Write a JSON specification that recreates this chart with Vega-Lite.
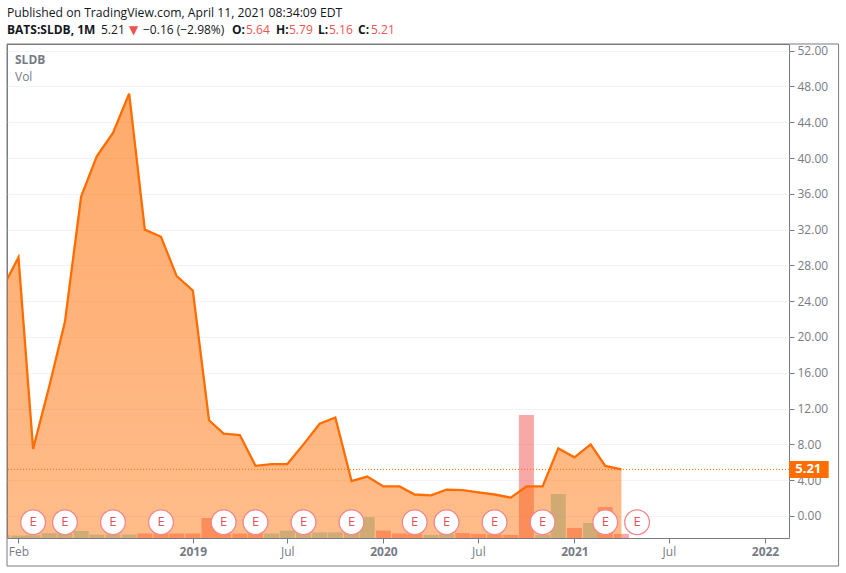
{
  "$schema": "https://vega.github.io/schema/vega-lite/v6.json",
  "width": 782,
  "height": 494,
  "autosize": "none",
  "padding": {"left": 7, "top": 44, "right": 57, "bottom": 35},
  "background": "white",
  "config": {
    "view": {"stroke": "#787b86", "strokeWidth": 1},
    "font": "Open Sans",
    "text": {"font": "Open Sans"}
  },
  "datasets": {
    "prices": [
      {"month": "2018-01-01", "close": 25.4},
      {"month": "2018-02-01", "close": 28.9},
      {"month": "2018-03-01", "close": 7.5},
      {"month": "2018-04-01", "close": 14.5},
      {"month": "2018-05-01", "close": 21.7},
      {"month": "2018-06-01", "close": 35.7},
      {"month": "2018-07-01", "close": 40.2},
      {"month": "2018-08-01", "close": 42.8},
      {"month": "2018-09-01", "close": 47.2},
      {"month": "2018-10-01", "close": 32},
      {"month": "2018-11-01", "close": 31.2},
      {"month": "2018-12-01", "close": 26.8},
      {"month": "2019-01-01", "close": 25.2},
      {"month": "2019-02-01", "close": 10.7},
      {"month": "2019-03-01", "close": 9.2},
      {"month": "2019-04-01", "close": 9.05},
      {"month": "2019-05-01", "close": 5.6},
      {"month": "2019-06-01", "close": 5.8},
      {"month": "2019-07-01", "close": 5.8},
      {"month": "2019-08-01", "close": 8},
      {"month": "2019-09-01", "close": 10.3},
      {"month": "2019-10-01", "close": 11},
      {"month": "2019-11-01", "close": 3.9},
      {"month": "2019-12-01", "close": 4.4},
      {"month": "2020-01-01", "close": 3.3},
      {"month": "2020-02-01", "close": 3.3},
      {"month": "2020-03-01", "close": 2.4},
      {"month": "2020-04-01", "close": 2.3},
      {"month": "2020-05-01", "close": 2.95},
      {"month": "2020-06-01", "close": 2.9},
      {"month": "2020-07-01", "close": 2.65},
      {"month": "2020-08-01", "close": 2.4},
      {"month": "2020-09-01", "close": 2.05},
      {"month": "2020-10-01", "close": 3.3},
      {"month": "2020-11-01", "close": 3.3},
      {"month": "2020-12-01", "close": 7.55},
      {"month": "2021-01-01", "close": 6.55},
      {"month": "2021-02-01", "close": 8},
      {"month": "2021-03-01", "close": 5.6},
      {"month": "2021-04-01", "close": 5.21}
    ],
    "volume": [
      {"month": "2018-01-01", "vol": 0.7, "dir": "up"},
      {"month": "2018-02-01", "vol": 0.6, "dir": "up"},
      {"month": "2018-03-01", "vol": 0.7, "dir": "up"},
      {"month": "2018-04-01", "vol": 1.2, "dir": "up"},
      {"month": "2018-05-01", "vol": 1.1, "dir": "up"},
      {"month": "2018-06-01", "vol": 1.7, "dir": "up"},
      {"month": "2018-07-01", "vol": 0.85, "dir": "up"},
      {"month": "2018-08-01", "vol": 0.85, "dir": "up"},
      {"month": "2018-09-01", "vol": 0.85, "dir": "up"},
      {"month": "2018-10-01", "vol": 1.1, "dir": "down"},
      {"month": "2018-11-01", "vol": 1.1, "dir": "down"},
      {"month": "2018-12-01", "vol": 1.1, "dir": "down"},
      {"month": "2019-01-01", "vol": 1.1, "dir": "down"},
      {"month": "2019-02-01", "vol": 4.9, "dir": "down"},
      {"month": "2019-03-01", "vol": 1.1, "dir": "down"},
      {"month": "2019-04-01", "vol": 1.1, "dir": "down"},
      {"month": "2019-05-01", "vol": 1.1, "dir": "down"},
      {"month": "2019-06-01", "vol": 1.1, "dir": "up"},
      {"month": "2019-07-01", "vol": 1.8, "dir": "up"},
      {"month": "2019-08-01", "vol": 1.1, "dir": "up"},
      {"month": "2019-09-01", "vol": 1.35, "dir": "up"},
      {"month": "2019-10-01", "vol": 1.35, "dir": "up"},
      {"month": "2019-11-01", "vol": 1.2, "dir": "up"},
      {"month": "2019-12-01", "vol": 5.1, "dir": "up"},
      {"month": "2020-01-01", "vol": 1.8, "dir": "down"},
      {"month": "2020-02-01", "vol": 1.1, "dir": "down"},
      {"month": "2020-03-01", "vol": 1, "dir": "down"},
      {"month": "2020-04-01", "vol": 0.75, "dir": "up"},
      {"month": "2020-05-01", "vol": 1, "dir": "up"},
      {"month": "2020-06-01", "vol": 1.2, "dir": "down"},
      {"month": "2020-07-01", "vol": 1, "dir": "down"},
      {"month": "2020-08-01", "vol": 0.85, "dir": "down"},
      {"month": "2020-09-01", "vol": 0.75, "dir": "down"},
      {"month": "2020-10-01", "vol": 30, "dir": "down"},
      {"month": "2020-11-01", "vol": 0.75, "dir": "up"},
      {"month": "2020-12-01", "vol": 10.7, "dir": "up"},
      {"month": "2021-01-01", "vol": 2.45, "dir": "down"},
      {"month": "2021-02-01", "vol": 3.65, "dir": "up"},
      {"month": "2021-03-01", "vol": 7.55, "dir": "down"},
      {"month": "2021-04-01", "vol": 1, "dir": "down"}
    ],
    "earnings": [
      {"month": "2018-03-01", "level": -0.7, "label": "E"},
      {"month": "2018-05-01", "level": -0.7, "label": "E"},
      {"month": "2018-08-01", "level": -0.7, "label": "E"},
      {"month": "2018-11-01", "level": -0.7, "label": "E"},
      {"month": "2019-03-01", "level": -0.7, "label": "E"},
      {"month": "2019-05-01", "level": -0.7, "label": "E"},
      {"month": "2019-08-01", "level": -0.7, "label": "E"},
      {"month": "2019-11-01", "level": -0.7, "label": "E"},
      {"month": "2020-03-01", "level": -0.7, "label": "E"},
      {"month": "2020-05-01", "level": -0.7, "label": "E"},
      {"month": "2020-08-01", "level": -0.7, "label": "E"},
      {"month": "2020-11-01", "level": -0.7, "label": "E"},
      {"month": "2021-03-01", "level": -0.7, "label": "E"},
      {"month": "2021-05-01", "level": -0.7, "label": "E"}
    ]
  },
  "encoding": {
    "x": {
      "field": "month",
      "type": "temporal",
      "title": null,
      "scale": {"type": "utc", "domain": ["2018-01-10", "2022-02-16"], "padding": 0, "nice": false},
      "axis": {
        "values": ["2018-02-01", "2019-01-01", "2019-07-01", "2020-01-01", "2020-07-01", "2021-01-01", "2021-07-01", "2022-01-01"],
        "labelExpr": "utcmonth(datum.value) == 0 ? utcFormat(datum.value, '%Y') : utcFormat(datum.value, '%b')",
        "labelFontWeight": {"condition": {"test": "utcmonth(datum.value) == 0", "value": "bold"}, "value": "normal"},
        "grid": false,
        "domain": false,
        "tickColor": "#787b86",
        "tickSize": 5,
        "labelColor": "#787b86",
        "labelFontSize": 12,
        "labelPadding": 3,
        "labelFlush": false
      }
    }
  },
  "layer": [
    {
      "data": {"name": "volume"},
      "mark": {"type": "bar", "width": 15, "clip": true, "opacity": 0.5},
      "encoding": {
        "y": {"field": "vol", "type": "quantitative", "axis": null, "scale": {"domain": [0, 120.5]}},
        "color": {
          "field": "dir",
          "type": "nominal",
          "legend": null,
          "scale": {"domain": ["up", "down"], "range": ["#51c1af", "#ef5350"]}
        }
      }
    },
    {
      "layer": [
        {
          "data": {"name": "prices"},
          "mark": {
            "type": "area",
            "clip": true,
            "color": {
              "gradient": "linear",
              "x1": 1, "y1": 1, "x2": 1, "y2": 0,
              "stops": [
                {"offset": 0, "color": "rgba(255,109,0,0.46)"},
                {"offset": 1, "color": "rgba(255,109,0,0.58)"}
              ]
            }
          },
          "encoding": {
            "y": {
              "field": "close",
              "type": "quantitative",
              "title": null,
              "scale": {"domain": [-2.46, 52.74], "nice": false, "zero": false},
              "axis": {
                "orient": "right",
                "values": [0, 4, 8, 12, 16, 20, 24, 28, 32, 36, 40, 44, 48, 52],
                "tickCount": 20,
                "format": ".2f",
                "labelOverlap": false,
                "grid": true,
                "gridColor": "#f0f3fa",
                "domain": false,
                "tickColor": "#787b86",
                "tickSize": 5,
                "labelColor": "#787b86",
                "labelFontSize": 12,
                "labelPadding": 3
              }
            },
            "y2": {"datum": -2.46}
          }
        },
        {
          "data": {"values": [{"close": 5.21}]},
          "mark": {"type": "rule", "color": "#ff6d00", "strokeWidth": 1, "strokeDash": [1, 2]},
          "encoding": {"x": null, "y": {"field": "close", "type": "quantitative"}}
        },
        {
          "data": {"name": "prices"},
          "mark": {"type": "line", "clip": true, "color": "#ff6d00", "strokeWidth": 2.3},
          "encoding": {"y": {"field": "close", "type": "quantitative"}}
        },
        {
          "data": {"name": "earnings"},
          "mark": {"type": "point", "filled": false, "fill": "white", "fillOpacity": 1, "stroke": "#f5868c", "strokeWidth": 1.3, "size": 610, "opacity": 1},
          "encoding": {"y": {"field": "level", "type": "quantitative"}}
        },
        {
          "data": {"name": "earnings"},
          "mark": {"type": "text", "color": "#e2515e", "fontSize": 13},
          "encoding": {"y": {"field": "level", "type": "quantitative"}, "text": {"field": "label"}}
        },
        {
          "data": {"values": [{"month": "2018-01-10", "end": "2022-05-22", "top": 52.74, "bottom": -5.59}]},
          "mark": {"type": "rect", "fill": null, "stroke": "#787b86", "strokeWidth": 1},
          "encoding": {
            "x2": {"field": "end"},
            "y": {"field": "top", "type": "quantitative"},
            "y2": {"field": "bottom"}
          }
        },
        {
          "data": {"values": [{"month": "2022-02-16", "end": "2022-05-03", "top": 6.15, "bottom": 4.25}]},
          "mark": {"type": "rect", "color": "#ff6d00"},
          "encoding": {
            "x2": {"field": "end"},
            "y": {"field": "top", "type": "quantitative"},
            "y2": {"field": "bottom"}
          }
        },
        {
          "data": {"values": [{"month": "2022-02-28", "close": 5.21}]},
          "mark": {"type": "text", "color": "white", "fontWeight": "bold", "fontSize": 13, "align": "left"},
          "encoding": {
            "y": {"field": "close", "type": "quantitative"},
            "text": {"field": "close", "type": "quantitative", "format": ".2f"}
          }
        }
      ]
    },
    {"data": {"values": [{}]}, "mark": {"type": "text", "x": 8, "y": 16, "align": "left", "fontWeight": "bold", "fontSize": 12, "color": "#787b86", "text": "SLDB"}, "encoding": {"x": null}},
    {"data": {"values": [{}]}, "mark": {"type": "text", "x": 8, "y": 33, "align": "left", "fontSize": 12, "color": "#787b86", "text": "Vol"}, "encoding": {"x": null}},
    {"data": {"values": [{}]}, "mark": {"type": "text", "x": 0, "y": -31, "align": "left", "fontSize": 12.2, "color": "#131722", "text": "Published on TradingView.com, April 11, 2021 08:34:09 EDT"}, "encoding": {"x": null}},
    {"data": {"values": [{}]}, "mark": {"type": "text", "x": 0, "y": -14, "align": "left", "fontSize": 12, "fontWeight": "bold", "color": "#131722", "text": "BATS:SLDB, 1M"}, "encoding": {"x": null}},
    {"data": {"values": [{}]}, "mark": {"type": "text", "x": 94, "y": -14, "align": "left", "fontSize": 12, "color": "#131722", "text": "5.21"}, "encoding": {"x": null}},
    {"data": {"values": [{}]}, "mark": {"type": "text", "x": 122, "y": -14, "align": "left", "font": "DejaVu Sans", "fontSize": 12, "color": "#ef5350", "text": "▼"}, "encoding": {"x": null}},
    {"data": {"values": [{}]}, "mark": {"type": "text", "x": 136, "y": -14, "align": "left", "fontSize": 12, "color": "#131722", "text": "−0.16 (−2.98%)"}, "encoding": {"x": null}},
    {"data": {"values": [{}]}, "mark": {"type": "text", "x": 225, "y": -14, "align": "left", "fontSize": 12, "fontWeight": "bold", "color": "#131722", "text": "O:"}, "encoding": {"x": null}},
    {"data": {"values": [{}]}, "mark": {"type": "text", "x": 239, "y": -14, "align": "left", "fontSize": 12, "color": "#ef5350", "text": "5.64"}, "encoding": {"x": null}},
    {"data": {"values": [{}]}, "mark": {"type": "text", "x": 269, "y": -14, "align": "left", "fontSize": 12, "fontWeight": "bold", "color": "#131722", "text": "H:"}, "encoding": {"x": null}},
    {"data": {"values": [{}]}, "mark": {"type": "text", "x": 282, "y": -14, "align": "left", "fontSize": 12, "color": "#ef5350", "text": "5.79"}, "encoding": {"x": null}},
    {"data": {"values": [{}]}, "mark": {"type": "text", "x": 311, "y": -14, "align": "left", "fontSize": 12, "fontWeight": "bold", "color": "#131722", "text": "L:"}, "encoding": {"x": null}},
    {"data": {"values": [{}]}, "mark": {"type": "text", "x": 322, "y": -14, "align": "left", "fontSize": 12, "color": "#ef5350", "text": "5.16"}, "encoding": {"x": null}},
    {"data": {"values": [{}]}, "mark": {"type": "text", "x": 351, "y": -14, "align": "left", "fontSize": 12, "fontWeight": "bold", "color": "#131722", "text": "C:"}, "encoding": {"x": null}},
    {"data": {"values": [{}]}, "mark": {"type": "text", "x": 364, "y": -14, "align": "left", "fontSize": 12, "color": "#ef5350", "text": "5.21"}, "encoding": {"x": null}}
  ],
  "resolve": {"scale": {"y": "independent"}}
}
